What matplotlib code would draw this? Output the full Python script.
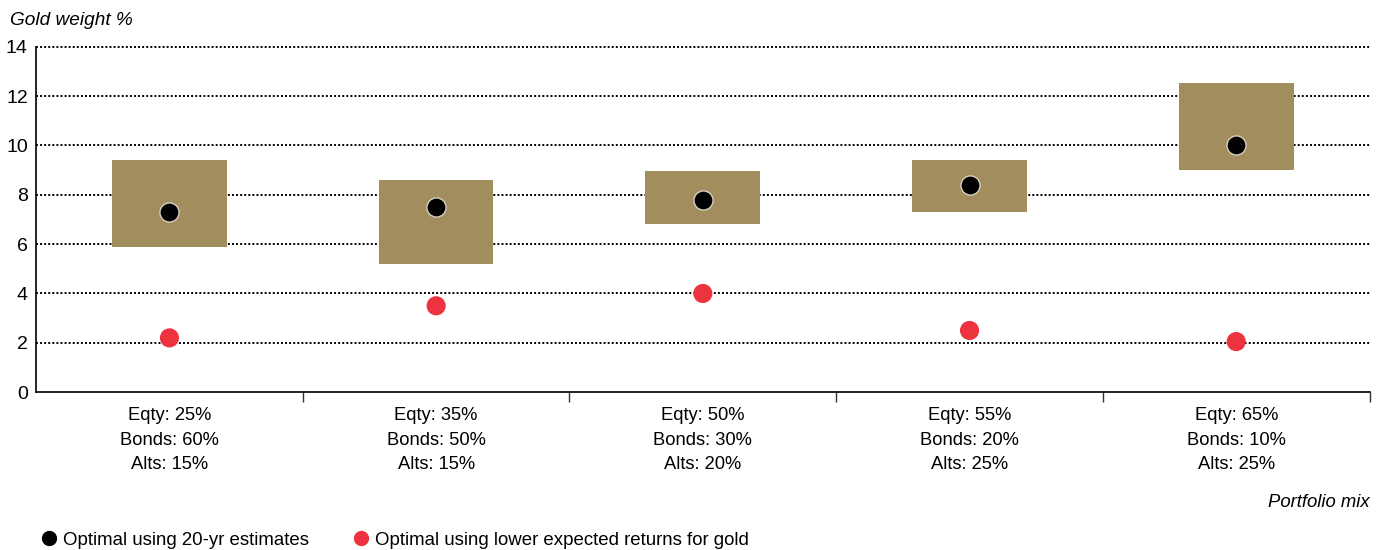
import numpy as np
import matplotlib.pyplot as plt
from matplotlib.lines import Line2D

plt.rcParams['font.family'] = ['Liberation Sans', 'DejaVu Sans']

mixes = ["Eqty: 25%\nBonds: 60%\nAlts: 15%",
         "Eqty: 35%\nBonds: 50%\nAlts: 15%",
         "Eqty: 50%\nBonds: 30%\nAlts: 20%",
         "Eqty: 55%\nBonds: 20%\nAlts: 25%",
         "Eqty: 65%\nBonds: 10%\nAlts: 25%"]
range_low = [5.9, 5.2, 6.8, 7.3, 9.0]
range_high = [9.4, 8.6, 8.95, 9.4, 12.55]
optimal_20yr = [7.3, 7.5, 7.8, 8.4, 10.0]
optimal_low_gold = [2.2, 3.5, 4.0, 2.5, 2.05]

gold = "#A28D5E"
red = "#EE3340"

fig = plt.figure(figsize=(13.89, 5.5), dpi=100)
ax = fig.add_axes([0.026, 0.287, 0.960, 0.628])

x = np.arange(len(mixes))
box_w = 0.43
ax.bar(x, np.array(range_high) - np.array(range_low), bottom=range_low,
       width=box_w, color=gold, zorder=2)
ax.scatter(x, optimal_20yr, s=190, color="black", edgecolor="#d8d0c0",
           linewidth=1.0, zorder=3)
ax.scatter(x, optimal_low_gold, s=190, color=red, edgecolor="none", zorder=3)

ax.set_xlim(-0.5, len(mixes) - 0.5)
ax.set_ylim(0, 14)
ax.set_yticks(range(0, 15, 2))
for y in range(2, 15, 2):
    ax.axhline(y, color="black", linestyle=(0, (1, 1.1)), linewidth=1.4,
               zorder=1, clip_on=False)

# category labels sit between the boundary ticks
ax.set_xticks(np.arange(0.5, len(mixes), 1.0))
ax.set_xticklabels([])
ax.set_xticks(x, minor=True)
ax.set_xticklabels(mixes, minor=True, fontsize=13.2, linespacing=1.55)
ax.tick_params(axis="x", which="major", direction="out", length=7, width=1, color="#333333")
ax.tick_params(axis="x", which="minor", length=0, pad=11)
ax.tick_params(axis="y", length=0, labelsize=14, pad=6)

for side in ["top", "right"]:
    ax.spines[side].set_visible(False)
ax.spines["left"].set_linewidth(1.2)
ax.spines["bottom"].set_linewidth(1.2)

fig.text(0.007, 0.963, "Gold weight %", fontsize=13.7, style="italic", va="center")
fig.text(0.986, 0.087, "Portfolio mix", fontsize=13.3, style="italic", ha="right", va="center")

handles = [Line2D([], [], marker="o", linestyle="none", markersize=10, color="black",
                  label="Optimal using 20-yr estimates"),
           Line2D([], [], marker="o", linestyle="none", markersize=10, color=red,
                  label="Optimal using lower expected returns for gold")]
fig.legend(handles=handles, loc="center left", bbox_to_anchor=(0.022, 0.018), ncol=2,
           frameon=False, fontsize=13.4, handletextpad=0.25, columnspacing=2.3,
           handlelength=1.0, borderpad=0)

fig.savefig("out.png", dpi=100)
